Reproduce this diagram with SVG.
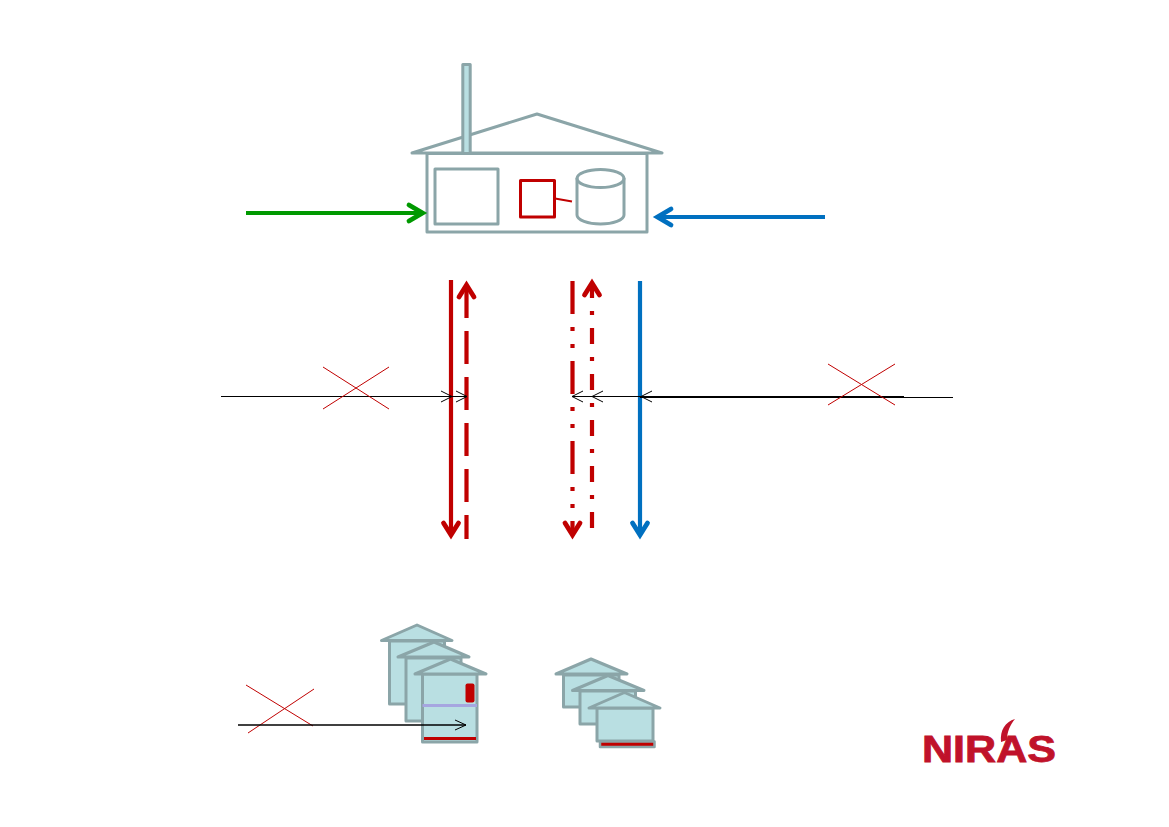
<svg xmlns="http://www.w3.org/2000/svg" width="1169" height="827" viewBox="0 0 1169 827">
<style>
.g{fill:none;stroke:#8ba5a8;stroke-width:3;stroke-linejoin:round;stroke-linecap:round}
.f{fill:#b9dfe2;stroke:#8ba5a8;stroke-width:3;stroke-linejoin:round;stroke-linecap:round}
.r{fill:none;stroke:#c00000;stroke-width:4.200}
.b{fill:none;stroke:#0070c0;stroke-width:4.200}
.gr{fill:none;stroke:#009900;stroke-width:4.200}
.h{stroke-width:4.800;stroke-linecap:round;stroke-linejoin:miter}
.t{fill:none;stroke:#000;stroke-width:1}
.x{fill:none;stroke:#c00000;stroke-width:1}
</style>
<rect width="1169" height="827" fill="#fff"/>
<g id="plant">
<path class="g" d="M412 153L537 114L662 153Z"/>
<rect class="f" x="462.800" y="64.500" width="7.400" height="89"/>
<rect class="g" x="427" y="153.500" width="220" height="78.500"/>
<rect class="g" x="435" y="169" width="63" height="55"/>
<rect x="520.500" y="180.500" width="34" height="36.500" fill="none" stroke="#c00000" stroke-width="3" stroke-linejoin="round"/>
<path d="M555 198.500L572 201.500" fill="none" stroke="#c00000" stroke-width="2"/>
<path class="g" d="M577 178.500V215C577 220 588 224 600.500 224S624 220 624 215V178.500"/>
<ellipse class="g" cx="600.500" cy="178.500" rx="23.500" ry="9"/>
</g>
<g id="connectors">
<path class="gr" d="M246 213H420"/><path class="gr h" d="M409 205L422.500 213L409 221"/>
<path class="b" d="M825 217H660"/><path class="b h" d="M671 209L657.500 217L671 225"/>
<path class="r" d="M451 280V533"/><path class="r h" d="M443.500 523L451 535L458.500 523"/>
<path class="r" d="M466.500 285V539" stroke-dasharray="33 13"/><path class="r h" d="M459 297L466.500 285L474 297"/>
<path class="r" d="M572.500 281V533" stroke-dasharray="33 13 4 13 4 13"/><path class="r h" d="M565 523L572.500 535L580 523"/>
<path class="r" d="M592 528V285" stroke-dasharray="16 13 4 13"/><path class="r h" d="M584.500 295L592 283L599.500 295"/>
<path class="b" d="M640 281V533"/><path class="b h" d="M632.500 523L640 535L647.500 523"/>
<path class="t" d="M221 396.500H452M441 391L452 396.500L441 402"/>
<path class="t" d="M452 396.500H467M456 391L467 396.500L456 402"/>
<path class="t" d="M904 396.500H572M583 391L572 396.500L583 402M603 391L592 396.500L603 402M652 391L641 396.500L652 402"/>
<path class="t" d="M640 397.500H953"/>
<path class="x" d="M323 367L389 409M389 367L323 409"/>
<path class="x" d="M828 364L895 405M895 364L828 405"/>
<path class="x" d="M246 685L313 726M314 689L248 733"/>
</g>
<g id="houses-left">
<path class="f" d="M389.500 641H444.500V704H389.500Z"/><path class="f" d="M381.500 640.500L417 625L452 640.500Z"/>
<path class="f" d="M406 658H461V721H406Z"/><path class="f" d="M398 657L434 642L469 657Z"/>
<path class="f" d="M422.500 674H477V742H422.500Z"/><path class="f" d="M415 674L450.500 659L486 674Z"/>
<rect x="465.500" y="683.500" width="9" height="19" rx="2" fill="#c00000"/>
<path d="M422.500 705.500H477" fill="none" stroke="#a6a6e0" stroke-width="3"/>
<path d="M424 738.500H476" fill="none" stroke="#c00000" stroke-width="3"/>
</g>
<g id="houses-right">
<path class="f" d="M563.500 675H619V707H563.500Z"/><path class="f" d="M556 674L591 659L627 674Z"/>
<path class="f" d="M580 691H635.500V724H580Z"/><path class="f" d="M572.500 690.500L608 675.500L644 690.500Z"/>
<path class="f" d="M597 708H653V741H597Z"/><path class="f" d="M589 708L624.500 692.500L660 708Z"/>
<rect x="600" y="741.500" width="54.500" height="5.500" fill="#c00000" stroke="#8ba5a8" stroke-width="2.500" stroke-linejoin="round"/>
</g>
<g id="arrow-over-house">
<path d="M238 725H466" fill="none" stroke="#000" stroke-width="1.400"/>
<path class="t" d="M455 720L466 725L455 730"/>
</g>
<g id="logo">
<text x="922" y="762" font-family="'Liberation Sans',Arial,sans-serif" font-weight="700" font-size="37" fill="#c0122a" stroke="#c0122a" stroke-width="0.800" textLength="134" lengthAdjust="spacingAndGlyphs">NIRAS</text>
<path d="M1001 742C1000 730 1005 722 1015 719C1010 725 1007 732 1007 740Z" fill="#c0122a"/>
</g>
</svg>
